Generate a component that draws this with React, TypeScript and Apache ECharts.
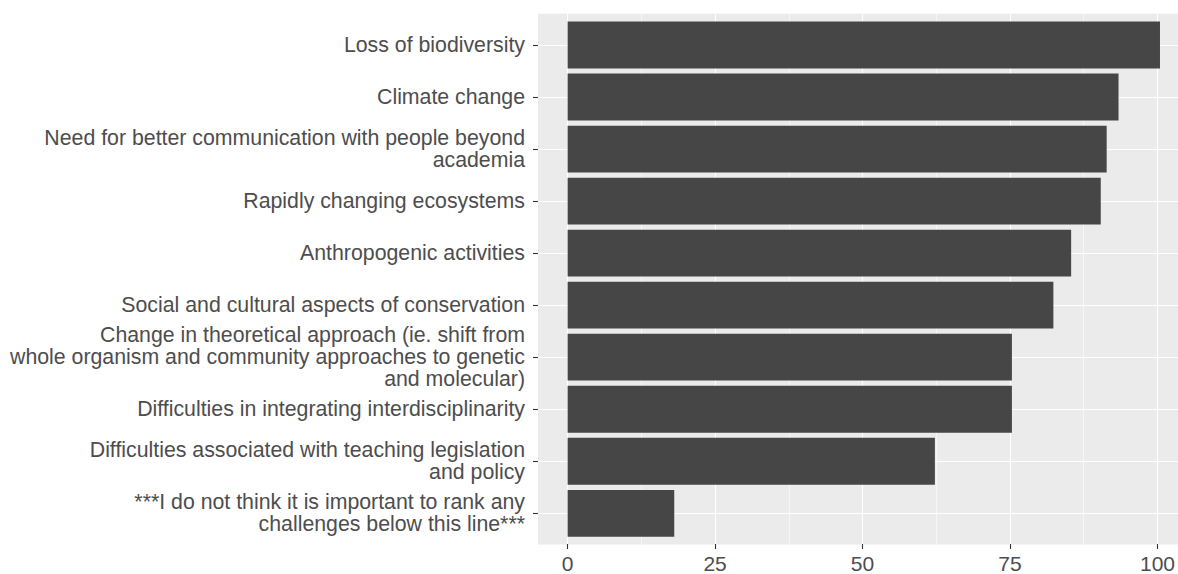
import React, { useEffect, useRef } from 'react';
import * as echarts from 'echarts';

const categories: string[] = [
  'Loss of biodiversity',
  'Climate change',
  'Need for better communication with people beyond\nacademia',
  'Rapidly changing ecosystems',
  'Anthropogenic activities',
  'Social and cultural aspects of conservation',
  'Change in theoretical approach (ie. shift from\nwhole organism and community approaches to genetic\nand molecular)',
  'Difficulties in integrating interdisciplinarity',
  'Difficulties associated with teaching legislation\nand policy',
  '***I do not think it is important to rank any\nchallenges below this line***',
];
const values: number[] = [100, 93, 91, 90, 85, 82, 75, 75, 62, 18];
const xMin = 0;
const xMax = 100;
const xInterval = 25;

const FONT = '"Liberation Sans", Arial, Helvetica, sans-serif';
const TICK = { show: true, length: 5, lineStyle: { color: '#333333', width: 1.1 } };

export default function App() {
  const ref = useRef<HTMLDivElement>(null);
  useEffect(() => {
    if (!ref.current) return;
    const chart = echarts.init(ref.current, undefined, { renderer: 'svg' });
    chart.setOption({
      animation: false,
      grid: [
        { left: 538, top: 13.8, width: 640, height: 530.7, show: true, backgroundColor: '#EBEBEB', borderWidth: 0 },
        { left: 567.6, top: 13.8, width: 592.4, height: 530.7 },
        { left: 538, top: 45, width: 640, height: 468.3 },
      ],
      xAxis: [
        { gridIndex: 0, type: 'value', min: 0, max: 1, show: false },
        {
          gridIndex: 1,
          type: 'value',
          min: xMin,
          max: xMax,
          interval: xInterval,
          axisLine: { show: false },
          axisTick: TICK,
          axisLabel: { color: '#4D4D4D', fontSize: 21, fontFamily: FONT, margin: 9 },
          splitLine: { show: true, lineStyle: { color: '#FFFFFF', width: 1.1 } },
          minorTick: { show: false, splitNumber: 2 },
          minorSplitLine: { show: true, lineStyle: { color: '#FFFFFF', width: 0.55 } },
        },
        { gridIndex: 2, type: 'value', min: xMin - 5, max: 103.04, show: false },
      ],
      yAxis: [
        { gridIndex: 0, type: 'value', show: false },
        { gridIndex: 1, type: 'value', show: false },
        {
          gridIndex: 2,
          type: 'category',
          data: categories,
          inverse: true,
          boundaryGap: false,
          axisLine: { show: false, onZero: false },
          axisTick: TICK,
          axisLabel: { interval: 0, color: '#4D4D4D', fontSize: 21.3, fontFamily: FONT, lineHeight: 22, margin: 13 },
          splitLine: { show: true, lineStyle: { color: '#FFFFFF', width: 1.1 } },
        },
      ],
      series: [
        {
          type: 'bar',
          xAxisIndex: 2,
          yAxisIndex: 2,
          data: values,
          barWidth: '90%',
          itemStyle: { color: '#464646' },
        },
      ],
    });
    return () => chart.dispose();
  }, []);
  return (
    <div
      ref={ref}
      style={{ position: 'absolute', left: 0, top: 0, width: 1178, height: 574, background: '#FFFFFF' }}
    />
  );
}
